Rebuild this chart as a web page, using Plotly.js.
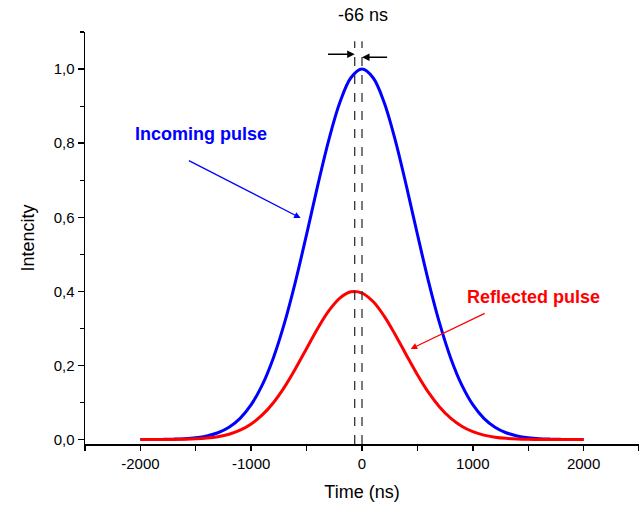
<!DOCTYPE html>
<html>
<head>
<meta charset="utf-8">
<script src="https://cdn.plot.ly/plotly-3.0.1.min.js"></script>
<style>html,body{margin:0;padding:0;background:#fff;}#chart{width:639px;height:505px;}</style>
</head>
<body>
<div id="chart"></div>
<script>
const time = [-2000,-1900,-1800,-1700,-1600,-1500,-1400,-1300,-1200,-1100,-1000,-900,-800,-700,-600,-500,-400,-300,-200,-100,0,100,200,300,400,500,600,700,800,900,1000,1100,1200,1300,1400,1500,1600,1700,1800,1900,2000];
const incoming = [0.00008,0.0002,0.00047,0.00108,0.00236,0.00491,0.00974,0.0184,0.0333,0.0573,0.0941,0.1475,0.2204,0.3142,0.4271,0.554,0.6852,0.8084,0.9098,0.9766,1.0,0.9766,0.9098,0.8084,0.6852,0.554,0.4271,0.3142,0.2204,0.1475,0.0941,0.0573,0.0333,0.0184,0.00974,0.00491,0.00236,0.00108,0.00047,0.0002,0.00008];
const reflected = [0.00003,0.00007,0.00017,0.0004,0.00092,0.00198,0.00404,0.00783,0.01444,0.0253,0.042,0.0664,0.0995,0.1416,0.1915,0.2459,0.2999,0.3472,0.3819,0.3988,0.3955,0.3725,0.3332,0.283,0.2283,0.1749,0.1272,0.0879,0.0576,0.0359,0.0212,0.0119,0.0064,0.0032,0.00155,0.0007,0.0003,0.0001,0.00005,0.00002,0.00001];
const xTickVals = [-2000,-1000,0,1000,2000];
const xTickText = ['-2000','-1000','0','1000','2000'];
const shiftNs = -66;
const shiftLabel = '-66 ns';
const incomingLabel = 'Incoming pulse';
const reflectedLabel = 'Reflected pulse';

const FONT = 'Arial, "Liberation Sans", sans-serif';

const traces = [
  {x: time, y: incoming, mode: 'lines', line: {color: '#0000ff', width: 3, shape: 'spline', smoothing: 1}, hoverinfo: 'skip'},
  {x: time, y: reflected, mode: 'lines', line: {color: '#ff0000', width: 3, shape: 'spline', smoothing: 1}, hoverinfo: 'skip'}
];

const layout = {
  width: 639, height: 505,
  margin: {l: 85, r: 0, t: 32, b: 61},
  paper_bgcolor: '#fff', plot_bgcolor: '#fff',
  showlegend: false,
  separators: ',.',
  font: {family: FONT, color: '#000', size: 15},
  xaxis: {
    range: [-2500, 2500], showgrid: false, zeroline: false,
    showline: true, linecolor: '#000', linewidth: 1.5,
    ticks: 'outside', ticklen: 5, tickwidth: 1.5, tickcolor: '#000',
    tickvals: xTickVals, ticktext: xTickText,
    minor: {dtick: 500, tick0: 0, ticks: 'outside', ticklen: 5, tickwidth: 1.2, tickcolor: '#000', showgrid: false},
    tickfont: {size: 15, family: FONT},
    title: {text: 'Time (ns)', font: {size: 18, family: FONT}, standoff: 15}
  },
  yaxis: {
    range: [-0.012, 1.1], showgrid: false, zeroline: false,
    showline: true, linecolor: '#000', linewidth: 1.5,
    ticks: 'outside', ticklen: 6, tickwidth: 1.5, tickcolor: '#000',
    dtick: 0.2, tick0: 0, tickformat: '.1f',
    minor: {dtick: 0.1, tick0: 0, ticks: 'outside', ticklen: 4, tickwidth: 1.2, tickcolor: '#000', showgrid: false},
    tickfont: {size: 15, family: FONT},
    title: {text: 'Intencity', font: {size: 18, family: FONT}, standoff: 14}
  },
  shapes: [
    {type: 'line', xref: 'x', yref: 'y', x0: shiftNs, x1: shiftNs, y0: -0.012, y1: 1.075, line: {color: '#333', width: 1.3, dash: 'dash'}},
    {type: 'line', xref: 'x', yref: 'y', x0: 0, x1: 0, y0: -0.012, y1: 1.075, line: {color: '#333', width: 1.3, dash: 'dash'}}
  ],
  annotations: [
    {xref: 'paper', yref: 'paper', x: 0.502, y: 1.0, yanchor: 'bottom', yshift: 5, showarrow: false, text: shiftLabel, font: {size: 18, family: FONT, color: '#000'}},
    {xref: 'x', yref: 'y', axref: 'x', ayref: 'y', x: shiftNs, y: 1.04, ax: -320, ay: 1.04, text: '', showarrow: true, arrowhead: 2, arrowsize: 1, arrowwidth: 1.5, arrowcolor: '#000', standoff: 0},
    {xref: 'x', yref: 'y', axref: 'x', ayref: 'y', x: 0, y: 1.032, ax: 240, ay: 1.032, text: '', showarrow: true, arrowhead: 2, arrowsize: 1, arrowwidth: 1.5, arrowcolor: '#000', standoff: 0},
    {xref: 'x', yref: 'y', x: -1450, y: 0.824, showarrow: false, text: '<b>' + incomingLabel + '</b>', font: {size: 18, family: FONT, color: '#0000ff'}},
    {xref: 'x', yref: 'y', axref: 'x', ayref: 'y', x: -554, y: 0.598, ax: -1576, ay: 0.755, text: '', showarrow: true, arrowhead: 2, arrowsize: 1, arrowwidth: 1.3, arrowcolor: '#0000ff', standoff: 0},
    {xref: 'x', yref: 'y', x: 1552, y: 0.385, showarrow: false, text: '<b>' + reflectedLabel + '</b>', font: {size: 18, family: FONT, color: '#ff0000'}},
    {xref: 'x', yref: 'y', axref: 'x', ayref: 'y', x: 439, y: 0.2445, ax: 1121, ay: 0.3425, text: '', showarrow: true, arrowhead: 2, arrowsize: 1, arrowwidth: 1.3, arrowcolor: '#ff0000', standoff: 0}
  ]
};

Plotly.newPlot('chart', traces, layout, {displayModeBar: false, staticPlot: true});
</script>
</body>
</html>
